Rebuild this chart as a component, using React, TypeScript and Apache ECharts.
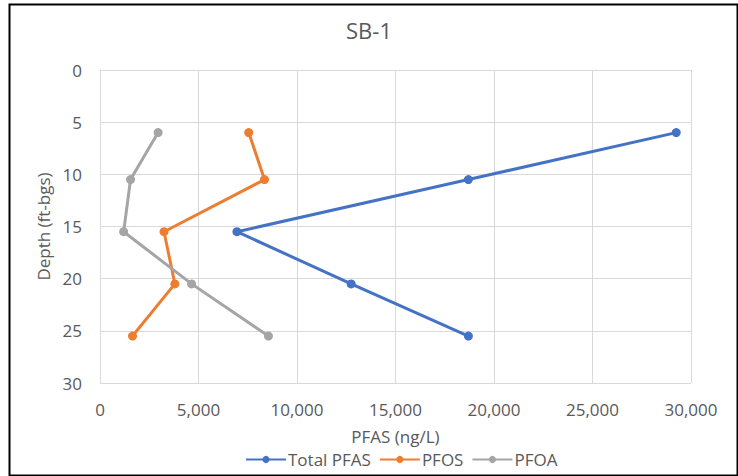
import React, { useEffect, useRef } from "react";
import * as echarts from "echarts";

const depths = [6, 10.5, 15.5, 20.5, 25.5];
const totalPfas = [29250, 18700, 6950, 12750, 18700];
const pfos = [7550, 8350, 3250, 3800, 1650];
const pfoa = [2950, 1550, 1200, 4650, 8550];
const seriesNames = ["Total PFAS", "PFOS", "PFOA"];
const colors = ["#4472C4", "#ED7D31", "#A5A5A5"];

const font = "'Open Sans', 'Liberation Sans', sans-serif";
const textColor = "#595959";

export default function App() {
  const ref = useRef<HTMLDivElement>(null);
  useEffect(() => {
    if (!ref.current) return;
    const chart = echarts.init(ref.current, undefined, { renderer: "svg" });
    const values = [totalPfas, pfos, pfoa];
    chart.setOption({
      animation: false,
      backgroundColor: "#ffffff",
      title: {
        text: "SB-1",
        left: "center",
        top: 14,
        textStyle: { fontFamily: font, fontSize: 22, fontWeight: "normal", color: textColor },
      },
      graphic: [
        {
          type: "rect",
          left: 7,
          top: 2,
          shape: { width: 728, height: 471 },
          style: { fill: "none", stroke: "#000000", lineWidth: 2 },
          silent: true,
        },
      ],
      legend: {
        top: 446,
        left: 240,
        itemWidth: 40,
        itemHeight: 9,
        itemGap: 8,
        textStyle: { fontFamily: font, fontSize: 17, color: textColor, padding: [0, 0, 0, -3] },
        data: seriesNames,
      },
      grid: { left: 100, right: 47, top: 70, bottom: 93, containLabel: false },
      xAxis: {
        type: "value",
        min: 0,
        max: 30000,
        interval: 5000,
        name: "PFAS (ng/L)",
        nameLocation: "middle",
        nameGap: 45,
        nameTextStyle: { fontFamily: font, fontSize: 17, color: textColor },
        axisLine: { show: true, lineStyle: { color: "#d9d9d9" } },
        axisTick: { show: false },
        axisLabel: {
          fontFamily: font,
          fontSize: 17,
          color: textColor,
          margin: 18,
          formatter: (v: number) => v.toLocaleString("en-US"),
        },
        splitLine: { show: true, lineStyle: { color: "#d9d9d9", width: 1 } },
      },
      yAxis: {
        type: "value",
        inverse: true,
        min: 0,
        max: 30,
        interval: 5,
        name: "Depth (ft-bgs)",
        nameLocation: "middle",
        nameGap: 47,
        nameRotate: 90,
        nameTextStyle: { fontFamily: font, fontSize: 17, color: textColor },
        axisLine: { show: true, lineStyle: { color: "#d9d9d9" } },
        axisTick: { show: false },
        axisLabel: { fontFamily: font, fontSize: 17, color: textColor, margin: 18 },
        splitLine: { show: true, lineStyle: { color: "#d9d9d9", width: 1 } },
      },
      series: seriesNames.map((name, i) => ({
        name,
        type: "line",
        data: values[i].map((v, j) => [v, depths[j]]),
        symbol: "circle",
        symbolSize: 9,
        itemStyle: { color: colors[i] },
        lineStyle: { color: colors[i], width: 3 },
      })),
    });
    return () => chart.dispose();
  }, []);
  return (
    <div
      ref={ref}
      style={{ position: "absolute", left: 0, top: 0, width: 738, height: 476 }}
    />
  );
}
